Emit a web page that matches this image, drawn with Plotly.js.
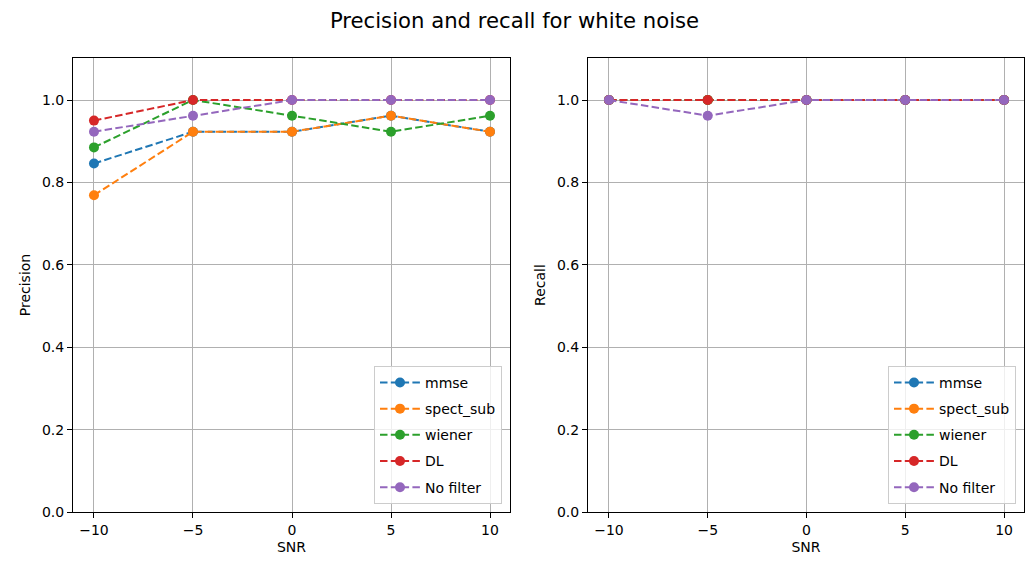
<!DOCTYPE html>
<html>
<head>
<meta charset="utf-8">
<script src="https://cdn.plot.ly/plotly-3.0.1.min.js"></script>
<style>html,body{margin:0;padding:0;background:#fff;}#chart{width:1029px;height:563px;}</style>
</head>
<body>
<div id="chart"></div>
<script>
const snr = [-10, -5, 0, 5, 10];
const seriesNames = ["mmse", "spect_sub", "wiener", "DL", "No filter"];
const colors = ["#1f77b4", "#ff7f0e", "#2ca02c", "#d62728", "#9467bd"];

const precisionMmse = [0.846, 0.923, 0.923, 0.962, 0.923];
const precisionSpectSub = [0.769, 0.923, 0.923, 0.962, 0.923];
const precisionWiener = [0.885, 1.0, 0.962, 0.923, 0.962];
const precisionDL = [0.95, 1.0, 1.0, 1.0, 1.0];
const precisionNoFilter = [0.923, 0.962, 1.0, 1.0, 1.0];

const recallMmse = [1.0, 1.0, 1.0, 1.0, 1.0];
const recallSpectSub = [1.0, 1.0, 1.0, 1.0, 1.0];
const recallWiener = [1.0, 1.0, 1.0, 1.0, 1.0];
const recallDL = [1.0, 1.0, 1.0, 1.0, 1.0];
const recallNoFilter = [1.0, 0.962, 1.0, 1.0, 1.0];

const precision = [precisionMmse, precisionSpectSub, precisionWiener, precisionDL, precisionNoFilter];
const recall = [recallMmse, recallSpectSub, recallWiener, recallDL, recallNoFilter];

const W = 1029;
const font = "DejaVu Sans, sans-serif";
const traces = [];
function add(ys, xa, ya, leg) {
  ys.forEach((y, i) => {
    traces.push({
      x: snr, y: y, xaxis: xa, yaxis: ya, legend: leg, legendgroup: leg + i,
      name: seriesNames[i], type: "scatter", mode: "lines+markers",
      line: {color: colors[i], width: 2, dash: "7.5px,3.3px"},
      marker: {color: colors[i], size: 10}
    });
  });
}
add(precision, "x", "y", "legend");
add(recall, "x2", "y2", "legend2");

function xax(d0, d1, anchor) {
  return {
    domain: [d0, d1], anchor: anchor, range: [-11.06, 11.01],
    tickvals: [-10, -5, 0, 5, 10], ticks: "outside", ticklen: 5, tickcolor: "#000",
    showline: true, mirror: true, linecolor: "#000", linewidth: 1,
    showgrid: true, gridcolor: "#b0b0b0", gridwidth: 1, zeroline: false,
    tickfont: {size: 14, color: "#000"},
    title: {text: "SNR", font: {size: 14, color: "#000"}, standoff: 5},
    automargin: false
  };
}
function yax(anchor, title) {
  return {
    anchor: anchor, domain: [0, 1], range: [0, 1.102],
    tickvals: [0, 0.2, 0.4, 0.6, 0.8, 1.0], ticktext: ["0.0", "0.2", "0.4", "0.6", "0.8", "1.0"],
    ticks: "outside", ticklen: 5, tickcolor: "#000",
    showline: true, mirror: true, linecolor: "#000", linewidth: 1,
    showgrid: true, gridcolor: "#b0b0b0", gridwidth: 1, zeroline: false,
    tickfont: {size: 14, color: "#000"},
    title: {text: title, font: {size: 14, color: "#000"}, standoff: 8},
    automargin: false
  };
}
function leg(xr) {
  return {
    x: xr / W, xanchor: "right", y: 0.018, yanchor: "bottom",
    bgcolor: "rgba(255,255,255,0.8)", bordercolor: "#cccccc", borderwidth: 1,
    font: {size: 14, color: "#000", family: font}, itemwidth: 40,
    tracegroupgap: 5
  };
}
const layout = {
  width: 1029, height: 563,
  margin: {l: 0, r: 0, t: 58, b: 51},
  paper_bgcolor: "#fff", plot_bgcolor: "#fff",
  font: {family: font, color: "#000"},
  showlegend: true,
  title: {text: "Precision and recall for white noise", x: 0.5, xanchor: "center", y: 0.963, yanchor: "middle", font: {size: 21.2, color: "#000"}},
  xaxis: xax(73 / W, 510 / W, "y"),
  yaxis: yax("x", "Precision"),
  xaxis2: xax(588 / W, 1024 / W, "y2"),
  yaxis2: yax("x2", "Recall"),
  legend: leg(502),
  legend2: leg(1016)
};
Plotly.newPlot("chart", traces, layout, {displayModeBar: false, staticPlot: true});
</script>
</body>
</html>
